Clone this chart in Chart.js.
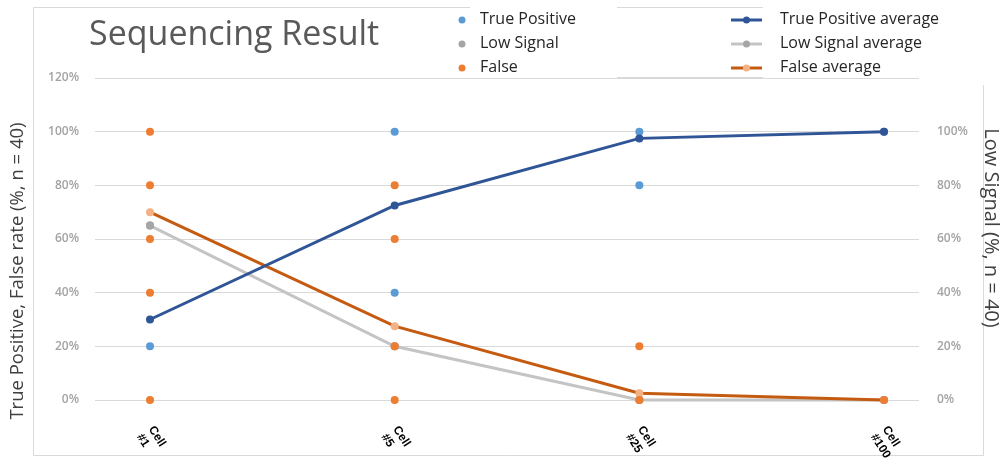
<!DOCTYPE html>
<html>
<head>
<meta charset="utf-8">
<title>Sequencing Result</title>
<script src="https://cdn.jsdelivr.net/npm/chart.js@4.4.1/dist/chart.umd.min.js"></script>
<style>
  html, body { margin: 0; padding: 0; background: #ffffff; }
  #wrap { width: 1003px; height: 469px; position: relative; }
</style>
</head>
<body>
<div id="wrap"><canvas id="chart" width="1003" height="469"></canvas></div>
<script>
// Categories (cell counts) along the horizontal axis
const categories = ['Cell #1', 'Cell #5', 'Cell #25', 'Cell #100'];

// Individual results per category (%)
const truePositive = [[20], [100, 40], [100, 80], [100]];
const lowSignal = [[65], [20], [0], [0]];
const falseRate = [[100, 80, 60, 40, 0], [80, 60, 20, 0], [20, 0], [0]];

// Averages per category (%)
const truePositiveAvg = [30, 72.5, 97.5, 100];
const lowSignalAvg = [65, 20, 0, 0];
const falseAvg = [70, 27.5, 2.5, 0];

// Axis ticks (%)
const leftTicks = [0, 20, 40, 60, 80, 100, 120];
const rightTicks = [0, 20, 40, 60, 80, 100];

const COLORS = {
  tp: '#5B9BD5', low: '#A5A5A5', fal: '#ED7D31',
  tpAvgLine: '#2F5597', tpAvgPt: '#2F5597',
  lowAvgLine: '#C4C4C4', lowAvgPt: '#A5A5A5',
  falAvgLine: '#C55A11', falAvgPt: '#F4B183'
};

function spread(groups) {
  const pts = [];
  groups.forEach((vals, i) => vals.forEach(v => pts.push({ x: i, y: v })));
  return pts;
}
function series(vals) {
  return vals.map((v, i) => ({ x: i, y: v }));
}

// Frame, title, legends, axis titles and category labels
const decorations = {
  id: 'decorations',
  beforeDraw(chart) {
    const ctx = chart.ctx;
    ctx.save();
    ctx.fillStyle = '#ffffff';
    ctx.fillRect(0, 0, chart.width, chart.height);
    ctx.strokeStyle = '#D9D9D9';
    ctx.lineWidth = 1;
    ctx.beginPath();
    ctx.moveTo(33.5, 7.5); ctx.lineTo(33.5, 455.5);
    ctx.lineTo(983.5, 455.5); ctx.lineTo(983.5, 85);
    ctx.moveTo(33.5, 7.5); ctx.lineTo(470, 7.5);
    ctx.moveTo(617, 7.5); ctx.lineTo(763, 7.5);
    ctx.moveTo(617, 77.5); ctx.lineTo(763, 77.5);
    ctx.stroke();
    ctx.restore();
  },
  afterDraw(chart) {
    const ctx = chart.ctx;
    const xs = chart.scales.x;
    ctx.save();

    // Title
    ctx.fillStyle = '#595959';
    ctx.font = '34px "Open Sans"';
    ctx.textAlign = 'left';
    ctx.textBaseline = 'alphabetic';
    ctx.fillText('Sequencing Result', 89, 45);

    // Point legend
    const rows = [19, 43, 67];
    const ptLegend = [['True Positive', COLORS.tp], ['Low Signal', COLORS.low], ['False', COLORS.fal]];
    ctx.font = '16px "Open Sans"';
    ctx.textBaseline = 'middle';
    ptLegend.forEach(([label, c], k) => {
      ctx.fillStyle = c;
      ctx.beginPath(); ctx.arc(462, rows[k] + 1, 3.5, 0, Math.PI * 2); ctx.fill();
      ctx.fillStyle = '#262626';
      ctx.fillText(label, 480, rows[k]);
    });

    // Average legend
    const avgLegend = [
      ['True Positive average', COLORS.tpAvgLine, COLORS.tpAvgPt],
      ['Low Signal average', COLORS.lowAvgLine, COLORS.lowAvgPt],
      ['False average', COLORS.falAvgLine, COLORS.falAvgPt]
    ];
    avgLegend.forEach(([label, lc, pc], k) => {
      const y = rows[k] + 1;
      ctx.strokeStyle = lc; ctx.lineWidth = 3;
      ctx.beginPath(); ctx.moveTo(731, y); ctx.lineTo(762, y); ctx.stroke();
      ctx.fillStyle = pc;
      ctx.beginPath(); ctx.arc(746.5, y, 3.5, 0, Math.PI * 2); ctx.fill();
      ctx.fillStyle = '#262626';
      ctx.fillText(label, 780, rows[k]);
    });

    // Axis titles
    ctx.fillStyle = '#404040';
    ctx.textAlign = 'center';
    ctx.save();
    ctx.font = '18.5px "Open Sans"';
    ctx.translate(18, 271);
    ctx.rotate(-Math.PI / 2);
    ctx.fillText('True Positive, False rate (%, n = 40)', 0, 0);
    ctx.restore();
    ctx.save();
    ctx.font = '20px "Open Sans"';
    ctx.translate(991, 228);
    ctx.rotate(Math.PI / 2);
    ctx.fillText('Low Signal (%, n = 40)', 0, 0);
    ctx.restore();

    // Category labels, two lines, slanted downwards
    ctx.fillStyle = '#000000';
    ctx.font = 'bold 12px "Liberation Sans"';
    ctx.textAlign = 'left';
    ctx.textBaseline = 'top';
    categories.forEach((cat, i) => {
      const parts = cat.split(' ');
      ctx.save();
      ctx.translate(xs.getPixelForValue(i) + 6, 424);
      ctx.rotate(57 * Math.PI / 180);
      parts.forEach((p, j) => ctx.fillText(p, 0, j * 14));
      ctx.restore();
    });
    ctx.restore();
  }
};

const pointStyle = (c, order) => ({
  type: 'scatter', backgroundColor: c, borderColor: c,
  pointRadius: 4, pointHoverRadius: 4, borderWidth: 0, order, clip: false
});
const lineStyle = (lc, pc, order) => ({
  type: 'line', borderColor: lc, backgroundColor: pc,
  pointBackgroundColor: pc, pointBorderColor: pc,
  borderWidth: 3, pointRadius: 4, pointBorderWidth: 0,
  fill: false, tension: 0, order, clip: false
});

const tickFont = { family: 'Open Sans', size: 12, weight: '600' };

new Chart(document.getElementById('chart'), {
  data: {
    datasets: [
      Object.assign({ label: 'True Positive average', data: series(truePositiveAvg), yAxisID: 'y' },
        lineStyle(COLORS.tpAvgLine, COLORS.tpAvgPt, 0)),
      Object.assign({ label: 'True Positive', data: spread(truePositive), yAxisID: 'y' }, pointStyle(COLORS.tp, 1)),
      Object.assign({ label: 'False', data: spread(falseRate), yAxisID: 'y' }, pointStyle(COLORS.fal, 1)),
      Object.assign({ label: 'Low Signal', data: spread(lowSignal), yAxisID: 'y2' }, pointStyle(COLORS.low, 2)),
      Object.assign({ label: 'False average', data: series(falseAvg), yAxisID: 'y' },
        lineStyle(COLORS.falAvgLine, COLORS.falAvgPt, 3)),
      Object.assign({ label: 'Low Signal average', data: series(lowSignalAvg), yAxisID: 'y2' },
        lineStyle(COLORS.lowAvgLine, COLORS.lowAvgPt, 4))
    ]
  },
  options: {
    responsive: false,
    animation: false,
    devicePixelRatio: 1,
    layout: { padding: { top: 78, bottom: 69, left: 0, right: 0 } },
    plugins: { legend: { display: false }, tooltip: { enabled: false }, title: { display: false } },
    scales: {
      x: { type: 'linear', display: false, min: -0.2248, max: 3.143 },
      y: {
        position: 'left', min: 0, max: 120,
        afterBuildTicks: s => { s.ticks = leftTicks.map(v => ({ value: v })); },
        ticks: { callback: v => v + '%', color: '#A3A3A3', padding: 16, font: tickFont },
        grid: { color: '#D9D9D9', drawTicks: false, lineWidth: 1 },
        border: { display: false },
        afterFit: s => { s.width = 95; }
      },
      y2: {
        position: 'right', min: 0, max: 120,
        afterBuildTicks: s => { s.ticks = rightTicks.map(v => ({ value: v })); },
        ticks: { callback: v => v + '%', color: '#A3A3A3', padding: 18, font: tickFont },
        grid: { drawOnChartArea: false, drawTicks: false },
        border: { display: false },
        afterFit: s => { s.width = 84; }
      }
    }
  },
  plugins: [decorations]
});
</script>
</body>
</html>
